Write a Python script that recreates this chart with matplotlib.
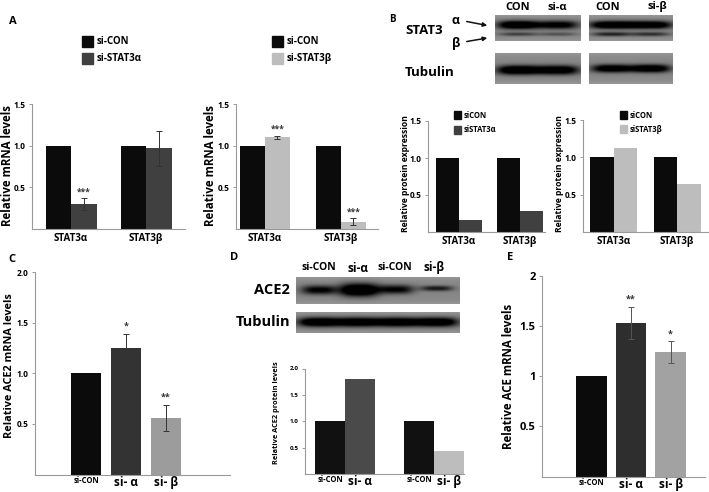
import numpy as np
import matplotlib
matplotlib.use("Agg")
import matplotlib.pyplot as plt
from matplotlib.patches import Rectangle, FancyArrowPatch

plt.rcParams['font.family'] = ['Open Sans', 'DejaVu Sans']
plt.rcParams['font.weight'] = 'bold'

# ---------------- data ----------------
a_groups = ["STAT3\u03b1", "STAT3\u03b2"]
a1_con = [1.0, 1.0]
a1_si = [0.30, 0.97]
a1_si_err = [0.07, 0.21]
a1_sig = ["***", ""]
a2_con = [1.0, 1.0]
a2_si = [1.10, 0.09]
a2_si_err = [0.02, 0.04]
a2_sig = ["***", "***"]

b_groups = ["STAT3\u03b1", "STAT3\u03b2"]
b1_con = [1.0, 1.0]
b1_si = [0.16, 0.29]
b2_con = [1.0, 1.0]
b2_si = [1.12, 0.64]

c_labels = ["si-CON", "si- \u03b1", "si- \u03b2"]
c_vals = [1.0, 1.25, 0.56]
c_err = [0.0, 0.14, 0.13]
c_sig = ["", "*", "**"]

d_labels = ["si-CON", "si- \u03b1", "si-CON", "si- \u03b2"]
d_vals = [1.0, 1.8, 1.0, 0.43]

e_labels = ["si-CON", "si- \u03b1", "si- \u03b2"]
e_vals = [1.0, 1.53, 1.24]
e_err = [0.0, 0.16, 0.11]
e_sig = ["", "**", "*"]

# band darkness (0..1) per lane
b_left_alpha = [0.80, 0.62]
b_left_beta = [0.30, 0.22]
b_left_tub = [0.78, 0.72]
b_right_alpha = [0.78, 0.74]
b_right_beta = [0.42, 0.36]
b_right_tub = [0.70, 0.74]
d_ace2 = [0.62, 0.82, 0.60, 0.45]
d_tub = [0.78, 0.76, 0.76, 0.76]

W, H = 709, 492
fig = plt.figure(figsize=(W / 100, H / 100), dpi=100)

BLACK = "#0b0b0b"
DARK = "#404040"
LIGHT = "#bdbdbd"
AXC = "#9a9a9a"


def add_ax(left, top, right, bottom):
    return fig.add_axes([left / W, 1 - bottom / H, (right - left) / W, (bottom - top) / H])


# overlay for annotations
ov = fig.add_axes([0, 0, 1, 1])
ov.set_xlim(0, W)
ov.set_ylim(H, 0)
ov.set_axis_off()
ov.set_zorder(10)
ov.patch.set_alpha(0)


def style(ax, ymax, ticks, ticklabels, fs_tick=6, xpad=3):
    for s in ["top", "right"]:
        ax.spines[s].set_visible(False)
    for s in ["left", "bottom"]:
        ax.spines[s].set_color(AXC)
        ax.spines[s].set_linewidth(0.8)
    ax.set_ylim(0, ymax)
    ax.set_yticks(ticks)
    ax.set_yticklabels(ticklabels, fontsize=fs_tick, fontweight='bold')
    ax.tick_params(axis='y', length=2.5, width=0.7, color=AXC, pad=2)
    ax.tick_params(axis='x', length=0, pad=xpad)
    ax.patch.set_alpha(0)


def grouped(ax, con, si, err, sig, cols, width, groups, fs=7):
    x = np.arange(len(con))
    ax.bar(x - width / 2, con, width, color=BLACK)
    ax.bar(x + width / 2, si, width, color=cols)
    if err is not None:
        ax.errorbar(x + width / 2, si, yerr=err, fmt='none', ecolor='#333333',
                    elinewidth=0.7, capsize=2, capthick=0.7)
        for xi, v, e, s in zip(x, si, err, sig):
            if s:
                ax.text(xi + width / 2, v + e + 0.02, s, ha='center', va='bottom',
                        fontsize=6, color='#333333')
    ax.set_xticks(x)
    ax.set_xticklabels(groups, fontsize=fs, fontweight='bold')


# ---------- Panel A ----------
ax = add_ax(32, 104, 185, 229)
style(ax, 1.5, [0.5, 1.0, 1.5], ["0.5", "1.0", "1.5"])
grouped(ax, a1_con, a1_si, a1_si_err, a1_sig, DARK, 0.34, a_groups)
ax.set_xlim(-0.52, 1.52)

ax = add_ax(236, 104, 378, 229)
style(ax, 1.5, [0.5, 1.0, 1.5], ["0.5", "1.0", "1.5"])
grouped(ax, a2_con, a2_si, a2_si_err, a2_sig, LIGHT, 0.33, a_groups)
ax.set_xlim(-0.38, 1.49)

ov.text(13, 22, "A", fontsize=8, ha='center', va='center')
for (x0, y0, lab, c) in [(82, 36, "si-CON", BLACK), (82, 53, "si-STAT3\u03b1", DARK),
                         (272, 36, "si-CON", BLACK), (272, 53, "si-STAT3\u03b2", LIGHT)]:
    ov.add_patch(Rectangle((x0, y0), 11, 11, color=c))
    ov.text(x0 + 15, y0 + 5.5, lab, fontsize=7, va='center', ha='left')
ov.text(8, 165, "Relative mRNA levels", rotation=90, fontsize=8.3, ha='center', va='center')
ov.text(211, 165, "Relative mRNA levels", rotation=90, fontsize=8.3, ha='center', va='center')

# ---------- Panel B blots ----------


def blot(left, top, right, bottom, bands, bg=0.53):
    bx = add_ax(left, top, right, bottom)
    ny, nx = 80, 240
    yy, xx = np.mgrid[0:1:ny * 1j, 0:1:nx * 1j]
    img = np.full((ny, nx), bg) + 0.06 * (np.abs(yy - 0.5) * 2) ** 4
    for (cx, cy, hw, hh, inten) in bands:
        d = np.exp(-np.abs((xx - cx) / hw) ** 3 - np.abs((yy - cy) / hh) ** 2.2)
        img = img - inten * d
    bx.imshow(np.clip(img, 0, 1), cmap='gray', vmin=0, vmax=1, aspect='auto',
              extent=[0, 1, 1, 0], interpolation='bilinear')
    bx.set_axis_off()
    return bx


lane2 = [0.27, 0.73]
blot(495, 15, 581, 41,
     [(lane2[i], 0.38, 0.24, 0.16, b_left_alpha[i]) for i in range(2)] +
     [(lane2[i], 0.74, 0.22, 0.07, b_left_beta[i]) for i in range(2)])
blot(495, 53, 581, 84,
     [(lane2[i], 0.55, 0.25, 0.15, b_left_tub[i]) for i in range(2)])
blot(589, 15, 673, 41,
     [(lane2[i], 0.38, 0.26, 0.15, b_right_alpha[i]) for i in range(2)] +
     [(lane2[i], 0.74, 0.23, 0.08, b_right_beta[i]) for i in range(2)])
blot(589, 53, 673, 84,
     [(lane2[i], 0.50, 0.24, 0.13, b_right_tub[i]) for i in range(2)])

ov.text(392, 20, "B", fontsize=7, ha='center', va='center')
ov.text(405, 31, "STAT3", fontsize=9.5, ha='left', va='center')
ov.text(405, 72, "Tubulin", fontsize=9.5, ha='left', va='center')
ov.text(456, 20, "\u03b1", fontsize=9, ha='center', va='center')
ov.text(456, 43, "\u03b2", fontsize=9, ha='center', va='center')
ov.add_patch(FancyArrowPatch((464, 21), (490, 26), arrowstyle='-|>', mutation_scale=6,
                             color='#111111', lw=1.1))
ov.add_patch(FancyArrowPatch((464, 42), (490, 37.5), arrowstyle='-|>', mutation_scale=6,
                             color='#111111', lw=1.1))
for (xc, lab) in [(518, "CON"), (557, "si-\u03b1"), (608, "CON"), (657, "si-\u03b2")]:
    ov.text(xc, 7, lab, fontsize=8, ha='center', va='center')

# ---------- Panel B bars ----------
ax = add_ax(428, 121, 545, 232)
style(ax, 1.5, [0.5, 1.0, 1.5], ["0.5", "1.0", "1.5"], fs_tick=6)
grouped(ax, b1_con, b1_si, None, None, DARK, 0.377, b_groups, fs=7)
ax.set_xlim(-0.51, 1.41)

ax = add_ax(583, 120, 708, 232)
style(ax, 1.5, [0.5, 1.0, 1.5], ["0.5", "1.0", "1.5"], fs_tick=6)
grouped(ax, b2_con, b2_si, None, None, LIGHT, 0.373, b_groups, fs=7)
ax.set_xlim(-0.49, 1.49)

for (x0, y0, lab, c) in [(454, 111, "siCON", BLACK), (454, 126, "siSTAT3\u03b1", DARK),
                         (620, 111, "siCON", BLACK), (620, 125, "siSTAT3\u03b2", LIGHT)]:
    ov.add_patch(Rectangle((x0, y0), 7, 8, color=c))
    ov.text(x0 + 10, y0 + 4, lab, fontsize=5.5, va='center', ha='left')
ov.text(406, 174, "Relative protein expression", rotation=90, fontsize=6.2,
        ha='center', va='center')
ov.text(559, 174, "Relative protein expression", rotation=90, fontsize=6.2,
        ha='center', va='center')

# ---------- Panel C ----------
ax = add_ax(35, 272, 230, 474.5)
style(ax, 2.0, [0.5, 1.0, 1.5, 2.0], ["0.5", "1.0", "1.5", "2.0"], fs_tick=6, xpad=1)
xc = np.arange(3)
ax.bar(xc, c_vals, 0.77, color=[BLACK, "#333333", "#9c9c9c"])
ax.errorbar(xc[1:], c_vals[1:], yerr=c_err[1:], fmt='none', ecolor='#333333',
            elinewidth=0.7, capsize=2.5, capthick=0.7)
for xi, v, e, s in zip(xc, c_vals, c_err, c_sig):
    if s:
        ax.text(xi, v + e + 0.03, s, ha='center', va='bottom', fontsize=6.5, color='#333333')
ax.set_xticks(xc)
ax.set_xticklabels(c_labels)
for t, fs in zip(ax.get_xticklabels(), [5.5, 8.5, 8.5]):
    t.set_fontsize(fs)
    t.set_fontweight('bold')
ax.set_xlim(-1.275, 3.6)
ov.text(12, 260, "C", fontsize=8, ha='center', va='center')
ov.text(10, 366, "Relative ACE2 mRNA levels", rotation=90, fontsize=7.8,
        ha='center', va='center')

# ---------- Panel D ----------
blot(296, 277, 460, 304,
     [(0.14, 0.48, 0.11, 0.17, d_ace2[0] * 0.9),
      (0.385, 0.48, 0.12, 0.24, d_ace2[1]),
      (0.61, 0.46, 0.11, 0.17, d_ace2[2] * 0.9),
      (0.86, 0.42, 0.10, 0.10, d_ace2[3])])
blot(296, 312, 460, 333,
     [(0.14 + 0.24 * i, 0.48, 0.13, 0.22, d_tub[i]) for i in range(4)])
ov.text(234, 258, "D", fontsize=8, ha='center', va='center')
for (xc_, lab, fs) in [(319, "si-CON", 7.5), (358, "si-\u03b1", 8.5),
                       (395, "si-CON", 7.5), (434, "si-\u03b2", 8.5)]:
    ov.text(xc_, 268, lab, fontsize=fs, ha='center', va='center')
ov.text(290, 290, "ACE2", fontsize=10.5, ha='right', va='center')
ov.text(290, 322, "Tubulin", fontsize=10.5, ha='right', va='center')

ax = add_ax(305, 368.5, 464, 474)
style(ax, 2.0, [0.5, 1.0, 1.5, 2.0], ["0.5", "1.0", "1.5", "2.0"], fs_tick=4.5, xpad=1)
xd = np.array([0, 1, 3, 4])
ax.bar(xd, d_vals, 1.0, color=["#111111", "#4a4a4a", "#111111", "#bdbdbd"])
ax.set_xticks(xd)
ax.set_xticklabels(d_labels)
for t, fs in zip(ax.get_xticklabels(), [5.5, 8.5, 5.5, 8.5]):
    t.set_fontsize(fs)
    t.set_fontweight('bold')
ax.set_xlim(-0.84, 4.5)
ov.text(277, 413, "Relative ACE2 protein levels", rotation=90, fontsize=5.3,
        ha='center', va='center')

# ---------- Panel E ----------
ax = add_ax(542, 276, 705, 476.5)
style(ax, 2.0, [0.5, 1.0, 1.5, 2.0], ["0.5", "1", "1.5", "2"], fs_tick=8, xpad=1)
xe = np.arange(3)
ax.bar(xe, e_vals, 0.78, color=[BLACK, "#2e2e2e", "#a2a2a2"])
ax.errorbar(xe[1:], e_vals[1:], yerr=e_err[1:], fmt='none', ecolor='#555555',
            elinewidth=0.7, capsize=2.5, capthick=0.7)
for xi, v, e, s in zip(xe, e_vals, e_err, e_sig):
    if s:
        ax.text(xi, v + e + 0.03, s, ha='center', va='bottom', fontsize=6.5, color='#333333')
ax.set_xticks(xe)
ax.set_xticklabels(e_labels)
for t, fs in zip(ax.get_xticklabels(), [5.5, 8.5, 8.5]):
    t.set_fontsize(fs)
    t.set_fontweight('bold')
ax.set_xlim(-1.25, 2.87)
ov.text(510, 258, "E", fontsize=8, ha='center', va='center')
ov.text(508, 376, "Relative ACE mRNA levels", rotation=90, fontsize=8.3,
        ha='center', va='center')

fig.savefig("out.png", dpi=100)
